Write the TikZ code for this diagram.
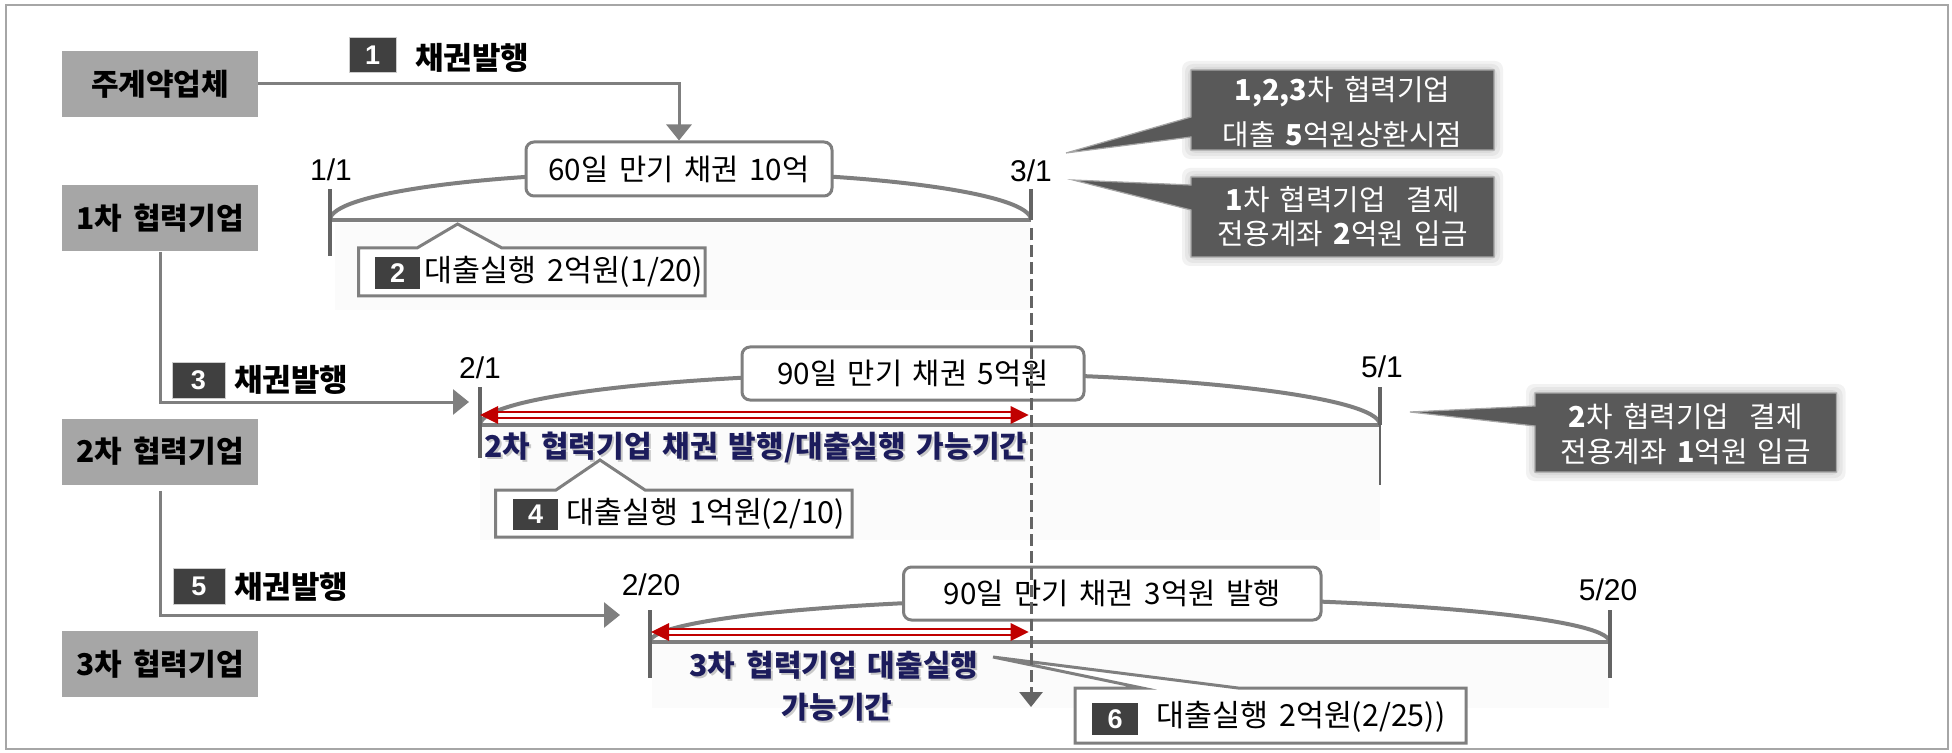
\documentclass[tikz,border=0pt]{standalone}
\usepackage{fontspec}
\setmainfont{Noto Sans CJK KR}[WordSpace=1.6]
\newfontfamily\numfont{Liberation Sans}
\usetikzlibrary{arrows.meta}
\definecolor{lgray}{RGB}{127,127,127}
\definecolor{boxgray}{RGB}{166,166,166}
\definecolor{dkgray}{RGB}{89,89,89}
\definecolor{badgegray}{RGB}{64,64,64}
\definecolor{tickgray}{RGB}{100,100,100}
\definecolor{redline}{RGB}{192,0,0}
\definecolor{navy}{RGB}{28,28,92}
\definecolor{faintbg}{RGB}{251,251,251}
\tikzset{
  lbox/.style={fill=boxgray, minimum width=98pt, minimum height=33pt, inner sep=0pt, font=\bfseries\fontsize{15}{16}\selectfont},
  badge/.style={fill=badgegray, text=white, inner sep=0pt, font=\numfont\bfseries\fontsize{13.5}{13.5}\selectfont},
  flowtxt/.style={inner sep=0pt, font=\bfseries\fontsize{15.5}{17}\selectfont},
  tbox/.style={draw=lgray, line width=1.5pt, fill=white, rounded corners=4pt, inner sep=0pt, font=\fontsize{14.8}{16}\selectfont},
  dlabel/.style={inner sep=0pt, font=\numfont\fontsize{15}{15}\selectfont},
  ctxt/.style={inner sep=0pt, font=\fontsize{15.2}{16}\selectfont},
  callw/.style={draw=lgray, line width=1.5pt, fill=white, line join=miter},
  calld/.style={draw=gray!70, line width=0.6pt, fill=dkgray},
  dtxt/.style={inner sep=0pt, text=white, font=\fontsize{14.4}{16}\selectfont},
  navytxt/.style={inner sep=0pt, text=navy, font=\bfseries\fontsize{15}{16}\selectfont},
  flow/.style={draw=lgray, line width=1.5pt, -{Triangle[length=8pt,width=12.5pt]}},
  baseln/.style={draw=lgray, line width=2pt},
  arcln/.style={draw=lgray, line width=2pt},
  tickln/.style={draw=tickgray, line width=2pt},
  redd/.style={draw=redline, line width=1pt, double=white, double distance=1.6pt},
  dashln/.style={draw=tickgray, line width=1.5pt, dash pattern=on 6pt off 2.5pt, -{Triangle[length=7.5pt,width=11.5pt]}},
  glow/.style={fill=black, opacity=0.05, rounded corners=4pt}
}
\begin{document}
\begin{tikzpicture}[x=0.5pt,y=-0.5pt]
\useasboundingbox (0,0) rectangle (1952,753);
\draw[draw=gray!70, line width=0.8pt] (6,5) rectangle (1948,749);

% faint background areas
\fill[faintbg] (335,223) rectangle (1031,310);
\fill[faintbg] (480,427) rectangle (1380,540);
\fill[faintbg] (652,644) rectangle (1609,708);

% left level boxes
\node[lbox] (main) at (160,84) {주계약업체};
\node[lbox] (l1) at (160,218.5) {1차 협력기업};
\node[lbox] (l2) at (160,451.5) {2차 협력기업};
\node[lbox] (l3) at (160,664) {3차 협력기업};

% ---------- timeline 1 ----------
\coordinate (t1s) at (330,220);
\coordinate (t1e) at (1031,220);
\draw[arcln] (t1s) .. controls (330,193.5) and (486.9,172) .. (680.5,172)
  .. controls (874.1,172) and (1031,193.5) .. (t1e);
\draw[baseln] (t1s) -- (t1e);
\draw[tickln] (330,189) -- (330,256);
\draw[tickln] (1031,189) -- (t1e);
\node[tbox, minimum width=153pt, minimum height=27pt] (b1) at (679,169) {60일 만기 채권 10억};
\node[dlabel] (d11) at (331,170) {1/1};
\node[dlabel] (d31) at (1031,171) {3/1};

% ---------- timeline 2 ----------
\coordinate (t2s) at (480,425);
\coordinate (t2e) at (1380,425);
\draw[arcln] (t2s) .. controls (480,396.3) and (681.5,373) .. (930,373)
  .. controls (1178.5,373) and (1380,396.3) .. (t2e);
\draw[baseln] (t2s) -- (t2e);
\draw[tickln] (480,387) -- (480,458);
\draw[tickln] (1380,387) -- (t2e);
\draw[draw=tickgray, line width=1pt] (t2e) -- (1380,485);
\node[tbox, minimum width=171pt, minimum height=26.5pt] (b2) at (913,373.5) {90일 만기 채권 5억원};
\node[dlabel] (d21) at (480,368) {2/1};
\node[dlabel] (d51) at (1382,367) {5/1};

% ---------- timeline 3 ----------
\coordinate (t3s) at (650,642);
\coordinate (t3e) at (1609.5,642);
\draw[arcln] (t3s) .. controls (650,617.7) and (864.8,598) .. (1129.75,598)
  .. controls (1394.7,598) and (1609.5,617.7) .. (t3e);
\draw[baseln] (t3s) -- (t3e);
\draw[tickln] (650,610) -- (650,678);
\draw[tickln] (1609.5,610) -- (1609.5,678);
\node[tbox, minimum width=208.75pt, minimum height=26.5pt] (b3) at (1112.25,593.5) {90일 만기 채권 3억원 발행};
\node[dlabel] (d220) at (651,585) {2/20};
\node[dlabel] (d520) at (1608,590) {5/20};

% ---------- flow arrows ----------
\coordinate (a3) at (469,402);
\coordinate (a5) at (620,615);
\draw[flow] (main.east) -| (b1.north);
\draw[flow] (l1.south) |- (a3);
\draw[flow] ([yshift=-3pt]l2.south) |- (a5);

\node[badge, draw=gray!40, line width=0.5pt, minimum width=23.5pt, minimum height=17.5pt] (n1) at (372.75,55.5) {1};
\node[flowtxt, anchor=west] (f1) at (415,58) {채권발행};
\node[badge, draw=gray!40, line width=0.5pt, minimum width=26.5pt, minimum height=18pt] (n3) at (198.5,380) {3};
\node[flowtxt, anchor=west] (f3) at (234,380) {채권발행};
\node[badge, draw=gray!40, line width=0.5pt, minimum width=26pt, minimum height=18pt] (n5) at (199,586) {5};
\node[flowtxt, anchor=west] (f5) at (234,587) {채권발행};

% ---------- red double arrows ----------
\coordinate (r1s) at (480,415);
\coordinate (r1e) at (1028.5,415);
\draw[redd] ([xshift=8pt]r1s) -- ([xshift=-8pt]r1e);
\fill[redline] (r1s) -- ++(18,-9) -- ++(0,18) -- cycle;
\fill[redline] (r1e) -- ++(-18,-9) -- ++(0,18) -- cycle;
\coordinate (r2s) at (651,632);
\coordinate (r2e) at (1028.5,632);
\draw[redd] ([xshift=8pt]r2s) -- ([xshift=-8pt]r2e);
\fill[redline] (r2s) -- ++(18,-9) -- ++(0,18) -- cycle;
\fill[redline] (r2e) -- ++(-18,-9) -- ++(0,18) -- cycle;

% ---------- white callouts ----------
\draw[callw] (358.5,248) -- (417,248) -- (457.6,224) -- (502,248) -- (705,248) -- (705,296) -- (358.5,296) -- cycle;
\node[badge, minimum width=22.5pt, minimum height=16pt] (n2) at (397.75,273) {2};
\node[ctxt, anchor=west] (c2) at (424,272) {대출실행 2억원(1/20)};

\draw[callw] (495.5,490) -- (556,490) -- (600,460) -- (645,490) -- (852,490) -- (852,537) -- (495.5,537) -- cycle;
\node[badge, minimum width=22.5pt, minimum height=15.5pt] (n4) at (535.5,514.5) {4};
\node[ctxt, anchor=west] (c4) at (566,514) {대출실행 1억원(2/10)};

\draw[callw] (1075,688) -- (1142,688) -- (993,657) -- (1238,688) -- (1466,688) -- (1466,743) -- (1075,743) -- cycle;
\node[badge, minimum width=23pt, minimum height=16pt] (n6) at (1115,719) {6};
\node[ctxt, anchor=west] (c6) at (1156,717) {대출실행 2억원(2/25))};

% ---------- period texts ----------
\node[navytxt, text=black, opacity=0.2, anchor=west] (p2s) at (486,449) {2차 협력기업 채권 발행/대출실행 가능기간};
\node[navytxt, anchor=west] (p2) at (484,447) {2차 협력기업 채권 발행/대출실행 가능기간};
\node[navytxt, text=black, opacity=0.2] (p3as) at (836,667) {3차 협력기업 대출실행};
\node[navytxt] (p3a) at (834,665) {3차 협력기업 대출실행};
\node[navytxt, text=black, opacity=0.2] (p3bs) at (839,709) {가능기간};
\node[navytxt] (p3b) at (837,707) {가능기간};

% ---------- dashed repayment line ----------
\coordinate (dend) at (1031,707);
\draw[dashln] ([yshift=-4pt]t1e) -- (dend);

% ---------- dark callouts ----------
\foreach \k in {9,6,3} {
  \fill[glow] (1191-\k,70-\k) rectangle (1494+\k,150+\k);
  \fill[glow] (1191-\k,177-\k) rectangle (1494+\k,257+\k);
  \fill[glow] (1535-\k,393-\k) rectangle (1836.5+\k,472+\k);
}
\draw[calld] (1191,70) -- (1494,70) -- (1494,150) -- (1191,150) -- (1191,137) -- (1066,153) -- (1191,117) -- cycle;
\node[dtxt] (k1a) at (1342.5,92) {\textbf{1,2,3}차 협력기업};
\node[dtxt] (k1b) at (1342.5,135) {대출 \textbf{5}억원상환시점};

\draw[calld] (1191,177) -- (1494,177) -- (1494,257) -- (1191,257) -- (1191,210) -- (1073,180) -- (1191,185) -- cycle;
\node[dtxt] (k2a) at (1342.5,200) {\textbf{1}차 협력기업\ \ 결제};
\node[dtxt] (k2b) at (1342.5,234) {전용계좌 \textbf{2}억원 입금};

\draw[calld] (1535,393) -- (1836.5,393) -- (1836.5,472) -- (1535,472) -- (1535,426) -- (1410,412) -- (1535,406) -- cycle;
\node[dtxt] (k3a) at (1685.75,417) {\textbf{2}차 협력기업\ \ 결제};
\node[dtxt] (k3b) at (1685.75,452) {전용계좌 \textbf{1}억원 입금};
\end{tikzpicture}
\end{document}
